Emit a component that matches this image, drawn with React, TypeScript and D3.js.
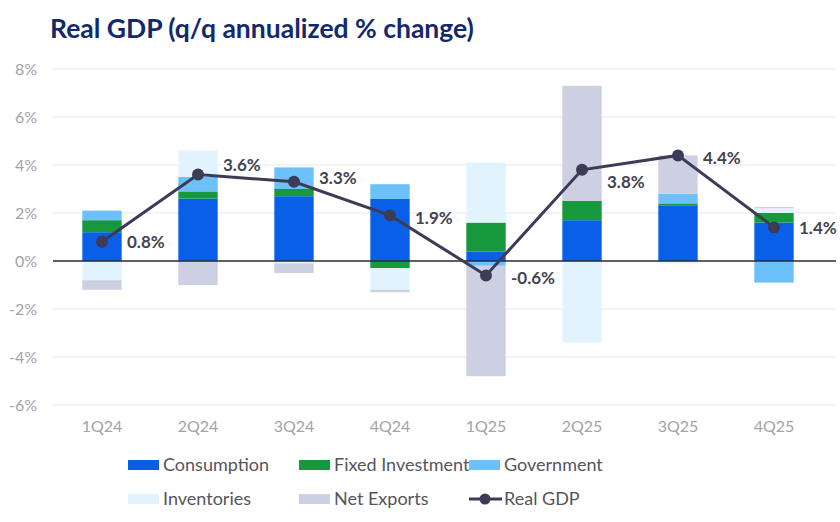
import React, { useRef, useEffect } from 'react';
import * as d3 from 'd3';

const quarters = ['1Q24', '2Q24', '3Q24', '4Q24', '1Q25', '2Q25', '3Q25', '4Q25'];
const consumption = [1.2, 2.6, 2.7, 2.6, 0.4, 1.7, 2.3, 1.6];
const fixedInvestment = [0.5, 0.3, 0.3, -0.3, 1.2, 0.8, 0.1, 0.4];
const government = [0.4, 0.6, 0.9, 0.6, -0.2, 0.0, 0.4, -0.9];
const inventories = [-0.8, 1.1, -0.1, -0.9, 2.5, -3.4, -0.1, 0.2];
const netExports = [-0.4, -1.0, -0.4, -0.1, -4.6, 4.8, 1.6, 0.05];
const realGdp = [0.8, 3.6, 3.3, 1.9, -0.6, 3.8, 4.4, 1.4];
const yTicks = [-6, -4, -2, 0, 2, 4, 6, 8];

const seriesNames = ['Consumption', 'Fixed Investment', 'Government', 'Inventories', 'Net Exports'];
const seriesValues = [consumption, fixedInvestment, government, inventories, netExports];
const seriesColors = ['#0a5fe8', '#17983d', '#6cc1fb', '#e1f3fd', '#cdd0e2'];

// label nudges for the GDP values (px, vertical)
const labelShift = [0, -10, -4, 2, 2, 12, 2, 0];

const W = 840;
const H = 522;
const FONT = 'Lato, "Open Sans", sans-serif';

const GdpChart: React.FC = () => {
  const svgRef = useRef<SVGSVGElement>(null);

  useEffect(() => {
    if (!svgRef.current) return;
    const svg = d3.select(svgRef.current);
    svg.selectAll('*').remove();

    const x = d3.scaleBand().domain(quarters).range([54, 822]).paddingInner(0.59).paddingOuter(0.295);
    const y = d3.scaleLinear().domain([-6, 8]).range([405, 69]);

    // title
    svg.append('text')
      .attr('x', 50).attr('y', 38)
      .attr('font-family', FONT).attr('font-weight', 700).attr('font-size', 26.5)
      .attr('fill', '#14296b')
      .text('Real GDP (q/q annualized % change)');

    // grid
    svg.append('g').selectAll('line')
      .data(yTicks.filter(t => t !== 0))
      .join('line')
      .attr('x1', 53).attr('x2', 836)
      .attr('y1', d => y(d)).attr('y2', d => y(d))
      .attr('stroke', '#e9e9f1').attr('stroke-width', 1.2);

    svg.append('g').selectAll('text')
      .data(yTicks)
      .join('text')
      .attr('x', 37).attr('y', d => y(d))
      .attr('dy', '0.36em').attr('text-anchor', 'end')
      .attr('font-family', FONT).attr('font-size', 16).attr('fill', '#a3a3a8')
      .text(d => `${d}%`);

    // stacked bars
    const rows = quarters.map((q, i) => {
      const r: any = { q };
      seriesNames.forEach((n, k) => { r[n] = seriesValues[k][i]; });
      return r;
    });
    const stack = d3.stack<any>().keys(seriesNames).offset(d3.stackOffsetDiverging);
    const layers = stack(rows);

    svg.append('g').selectAll('g')
      .data(layers)
      .join('g')
      .attr('fill', (_, i) => seriesColors[i])
      .selectAll('rect')
      .data(d => d)
      .join('rect')
      .attr('x', d => x(d.data.q)!)
      .attr('width', x.bandwidth())
      .attr('y', d => y(Math.max(d[0], d[1])))
      .attr('height', d => Math.abs(y(d[0]) - y(d[1])));

    // zero line
    svg.append('line')
      .attr('x1', 53).attr('x2', 836)
      .attr('y1', y(0)).attr('y2', y(0))
      .attr('stroke', '#2a2a33').attr('stroke-width', 1.5);

    // x labels
    svg.append('g').selectAll('text')
      .data(quarters)
      .join('text')
      .attr('x', d => x(d)! + x.bandwidth() / 2).attr('y', 426)
      .attr('dy', '0.36em').attr('text-anchor', 'middle')
      .attr('font-family', FONT).attr('font-size', 16).attr('fill', '#a3a3a8')
      .text(d => d);

    // GDP line
    const cx = (i: number) => x(quarters[i])! + x.bandwidth() / 2;
    const line = d3.line<number>().x((_, i) => cx(i)).y(d => y(d));
    svg.append('path')
      .datum(realGdp)
      .attr('d', line)
      .attr('fill', 'none').attr('stroke', '#3c3c56').attr('stroke-width', 3);

    svg.append('g').selectAll('circle')
      .data(realGdp)
      .join('circle')
      .attr('cx', (_, i) => cx(i)).attr('cy', d => y(d)).attr('r', 6)
      .attr('fill', '#3c3c56');

    svg.append('g').selectAll('text')
      .data(realGdp)
      .join('text')
      .attr('x', (_, i) => cx(i) + 25).attr('y', (d, i) => y(d) + labelShift[i])
      .attr('dy', '0.36em')
      .attr('font-family', FONT).attr('font-weight', 700).attr('font-size', 17)
      .attr('fill', '#44444f')
      .text(d => `${d.toFixed(1)}%`);

    // legend
    const legendItems = [
      { name: 'Consumption', kind: 'rect', color: seriesColors[0], col: 0, row: 0 },
      { name: 'Fixed Investment', kind: 'rect', color: seriesColors[1], col: 1, row: 0 },
      { name: 'Government', kind: 'rect', color: seriesColors[2], col: 2, row: 0 },
      { name: 'Inventories', kind: 'rect', color: seriesColors[3], col: 0, row: 1 },
      { name: 'Net Exports', kind: 'rect', color: seriesColors[4], col: 1, row: 1 },
      { name: 'Real GDP', kind: 'line', color: '#3c3c56', col: 2, row: 1 },
    ];
    const colX = [128, 299, 469];
    const rowY = [465, 499];
    const lg = svg.append('g').selectAll('g')
      .data(legendItems)
      .join('g')
      .attr('transform', d => `translate(${colX[d.col]},${rowY[d.row]})`);
    lg.filter(d => d.kind === 'rect').append('rect')
      .attr('x', 0).attr('y', -5).attr('width', 31).attr('height', 10)
      .attr('fill', d => d.color);
    const ll = lg.filter(d => d.kind === 'line');
    ll.append('line').attr('x1', 0).attr('x2', 33).attr('y1', 0).attr('y2', 0)
      .attr('stroke', d => d.color).attr('stroke-width', 3);
    ll.append('circle').attr('cx', 16).attr('cy', 0).attr('r', 5.5).attr('fill', d => d.color);
    lg.append('text')
      .attr('x', 35).attr('y', 0).attr('dy', '0.36em')
      .attr('font-family', FONT).attr('font-size', 18).attr('fill', '#55555c')
      .text(d => d.name);
  }, []);

  return <svg ref={svgRef} width={W} height={H} style={{ display: 'block' }} />;
};

export default function App() {
  useEffect(() => { document.body.style.margin = '0'; }, []);
  return <GdpChart />;
}
